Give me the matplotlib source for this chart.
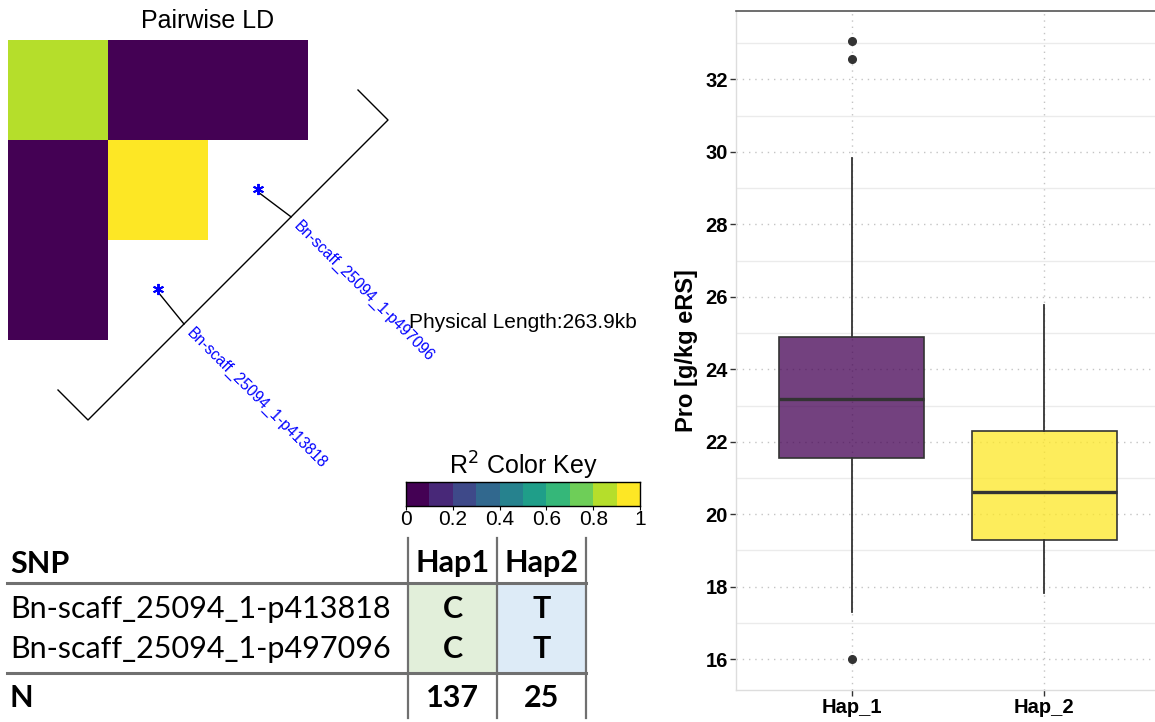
import numpy as np
import matplotlib
matplotlib.use("Agg")
import matplotlib.pyplot as plt
from matplotlib import font_manager
from matplotlib.colors import ListedColormap, BoundaryNorm, to_rgba

# LD matrix as drawn (r^2), empty cells left blank
ld_r2 = np.array([[0.85, 0.02, 0.02],
                  [0.02, 0.97, np.nan],
                  [0.02, np.nan, np.nan]])

snp_names = ["Bn-scaff_25094_1-p413818", "Bn-scaff_25094_1-p497096"]
snp_map_frac = [0.32, 0.677]      # relative position on the physical map
snp_diag_frac = [0.25, 0.75]      # where each SNP sits on the heatmap diagonal
phys_len_kb = 263.9

key_ticks = [0, 0.2, 0.4, 0.6, 0.8, 1]
key_labels = ["0", "0.2", "0.4", "0.6", "0.8", "1"]

# haplotype table
hap_cols = ["Hap1", "Hap2"]
hap_alleles = [["C", "T"], ["C", "T"]]
hap_n = [137, 25]

# boxplot summary per haplotype
groups = ["Hap_1", "Hap_2"]
q1 = [21.55, 19.29]
med = [23.17, 20.60]
q3 = [24.89, 22.31]
whis_lo = [17.30, 17.84]
whis_hi = [29.83, 25.78]
outliers = [[33.05, 32.57, 16.0], []]

W, H = 1155, 722
fig = plt.figure(figsize=(W / 100, H / 100), dpi=100)

names = {f.name for f in font_manager.fontManager.ttflist}
arial = "Liberation Sans"
narrow = "Liberation Sans Narrow" if "Liberation Sans Narrow" in names else arial
tab_font = "Lato"


def px_axes(x0, y0, x1, y1):
    return fig.add_axes([x0 / W, 1 - y1 / H, (x1 - x0) / W, (y1 - y0) / H])


viridis10 = ListedColormap(plt.get_cmap("viridis")(np.linspace(0, 1, 10)))
bins = BoundaryNorm(np.linspace(0, 1, 11), 10)

# --- heatmap ---
axh = px_axes(8, 40, 308, 340)
axh.pcolormesh(np.ma.masked_invalid(ld_r2), cmap=viridis10, norm=bins)
axh.set_xlim(0, 3)
axh.set_ylim(3, 0)
axh.axis("off")

# overlay in pixel coordinates for the map, labels and table
ov = fig.add_axes([0, 0, 1, 1], zorder=3)
ov.set_xlim(0, W)
ov.set_ylim(H, 0)
ov.axis("off")

ov.text(208, 28, "Pairwise LD", ha="center", va="baseline",
        fontsize=18, family=arial)

# physical map line with end caps
mapA = np.array([88, 420])
mapB = np.array([388, 120])
cap = np.array([-30, -30])
ov.plot([mapA[0] + cap[0], mapA[0], mapB[0], mapB[0] + cap[0]],
        [mapA[1] + cap[1], mapA[1], mapB[1], mapB[1] + cap[1]],
        color="black", lw=1.0)

diagA = np.array([108, 342])
diagB = np.array([308, 142])
for name, fm, fd in zip(snp_names, snp_map_frac, snp_diag_frac):
    p = mapA + fm * (mapB - mapA)
    q = diagA + fd * (diagB - diagA)
    ov.plot([p[0], q[0]], [p[1], q[1]], color="black", lw=1.0)
    ov.plot(q[0], q[1] - 3, marker=(6, 2, 0), ms=8, mew=1.4, color="blue")
    ov.text(p[0] + 5, p[1] + 7, name, rotation=-45, rotation_mode="anchor",
            ha="left", va="center", color="blue", fontsize=11.2, family=arial)

ov.text(409, 328, f"Physical Length:{phys_len_kb}kb", ha="left", va="baseline",
        fontsize=15, family=arial)

# --- colour key ---
axk = px_axes(406, 482, 640, 506)
axk.pcolormesh(np.linspace(0, 1, 11), [0, 1],
               np.linspace(0.05, 0.95, 10)[None, :], cmap=viridis10, norm=bins)
axk.set_xlim(0, 1)
axk.set_ylim(0, 1)
axk.set_yticks([])
axk.set_xticks(key_ticks)
axk.set_xticklabels(key_labels, family=narrow, fontsize=15)
axk.tick_params(axis="x", length=3, pad=0)
for s in axk.spines.values():
    s.set_linewidth(1.0)
axk.set_title("R$^2$ Color Key", family=narrow, fontsize=18, pad=0)

# --- haplotype table ---
col_x = [408, 497, 586]
line_col = "#707070"
ov.fill_between([col_x[0], col_x[1]], 583, 673, color="#E2EFDA", lw=0)
ov.fill_between([col_x[1], col_x[2]], 583, 673, color="#DDEBF7", lw=0)
for yl in [583, 673]:
    ov.plot([7, col_x[2]], [yl, yl], color=line_col, lw=2.2)
for xl in col_x:
    ov.plot([xl, xl], [538, 718], color=line_col, lw=1.6)

row_base = [618, 658]
ov.text(10, 573, "SNP", ha="left", va="baseline", fontsize=22,
        family=tab_font, weight="bold")
ov.text(10, 707, "N", ha="left", va="baseline", fontsize=22,
        family=tab_font, weight="bold")
for j, h in enumerate(hap_cols):
    cx = (col_x[j] + col_x[j + 1]) / 2
    ov.text(cx, 572, h, ha="center", va="baseline", fontsize=22,
            family=tab_font, weight="bold")
    ov.text(cx, 707, str(hap_n[j]), ha="center", va="baseline", fontsize=22,
            family=tab_font, weight="bold")
for i, name in enumerate(snp_names):
    ov.text(10, row_base[i], name, ha="left", va="baseline", fontsize=22,
            family=tab_font)
    for j in range(len(hap_cols)):
        cx = (col_x[j] + col_x[j + 1]) / 2
        ov.text(cx, row_base[i], hap_alleles[i][j], ha="center", va="baseline",
                fontsize=22, family=tab_font, weight="bold")

# --- boxplot ---
ax = px_axes(736.1, 10.5, 1159.9, 690)
stats = []
for k, g in enumerate(groups):
    stats.append(dict(label=g, q1=q1[k], med=med[k], q3=q3[k],
                      whislo=whis_lo[k], whishi=whis_hi[k], fliers=outliers[k]))
bp = ax.bxp(stats, positions=[1, 2], widths=0.75, patch_artist=True,
            showcaps=False,
            boxprops=dict(edgecolor="#333333", linewidth=1.2),
            medianprops=dict(color="#333333", linewidth=2.4),
            whiskerprops=dict(color="#333333", linewidth=1.3),
            flierprops=dict(marker="o", markerfacecolor="#333333",
                            markeredgecolor="#333333", markersize=5.5))
for patch, c in zip(bp["boxes"], ["#440154", "#FDE725"]):
    patch.set_facecolor(to_rgba(c, 0.75))

ax.set_xlim(0.4, 2.6)
ax.set_ylim(15.15, 33.9)
ax.set_yticks(np.arange(16, 33, 2))
ax.set_yticks(np.arange(17, 34, 2), minor=True)
ax.grid(which="major", axis="both", color="#c4c4c4", linestyle=(0, (1, 3.5)), lw=1.0)
ax.grid(which="minor", axis="y", color="#ebebeb", lw=1.0)
ax.set_axisbelow(True)
ax.tick_params(which="minor", length=0)
ax.tick_params(which="major", length=4, width=1.0, color="#333333", pad=2,
               labelsize=14.5)
for lab in ax.get_xticklabels() + ax.get_yticklabels():
    lab.set_fontweight("bold")
    lab.set_family(arial)
ax.set_ylabel("Pro [g/kg eRS]", fontsize=17, fontweight="bold", family=arial,
              labelpad=5)
ax.spines["right"].set_visible(False)
ax.spines["top"].set_color("#555555")
ax.spines["top"].set_linewidth(1.2)
for s in ["left", "bottom"]:
    ax.spines[s].set_color("#dddddd")
    ax.spines[s].set_linewidth(1.0)

fig.savefig("out.png", dpi=100)
